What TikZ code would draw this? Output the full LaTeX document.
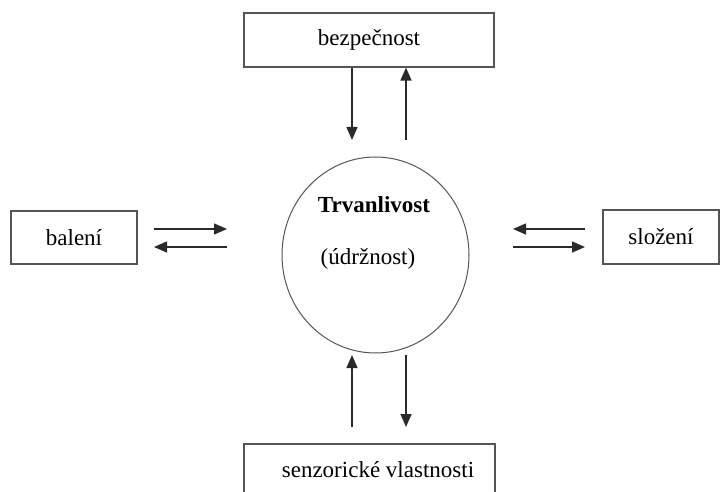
\documentclass[tikz,border=0pt]{standalone}
\usepackage{fontspec}
\setmainfont{Liberation Serif}
\usetikzlibrary{arrows.meta, shapes.geometric, positioning}
\definecolor{boxGrey}{HTML}{555555}
\definecolor{arrGrey}{HTML}{2A2A2A}
\tikzset{
  lbl/.style      = {font=\fontsize{23}{27}\selectfont},
  factorbox/.style = {draw=boxGrey, line width=1.1pt, inner sep=0pt, lbl},
  hub/.style      = {ellipse, draw=boxGrey, line width=1pt, inner sep=0pt,
                     minimum width=187pt, minimum height=196pt},
  flow/.style     = {-{Triangle[length=13pt, width=11pt]}, line width=1.4pt, arrGrey},
}
\begin{document}
\begin{tikzpicture}[x=1pt,y=-1pt]
  \useasboundingbox (0,0) rectangle (720,492);
  % factors round the centre
  \node[factorbox, minimum width=250pt, minimum height=54pt] (safety) at (369,40) {bezpečnost};
  \node[factorbox, minimum width=126pt, minimum height=53pt] (pack) at (74,237.5) {balení\hspace{12pt}};
  \node[factorbox, minimum width=116pt, minimum height=54pt] (comp) at (661,237) {složení\hspace{20pt}};
  \node[factorbox, minimum width=251pt, minimum height=52pt] (sense) at (369.5,470) {\hspace{17pt}senzorické vlastnosti};
  % centre
  \node[hub] (core) at (375.5,255) {};
  \node[lbl, font=\fontsize{23}{27}\selectfont\bfseries] (title) at (374,205) {Trvanlivost};
  \node[lbl] (subtitle) at (368,259) {(údržnost)};
  % free ends of the arrows
  \coordinate (sTop) at (352,140); \coordinate (sTop2) at (406,140);
  \coordinate (bUp) at (352,427);  \coordinate (bUpEnd) at (352,355);
  \coordinate (bDn) at (406,355);  \coordinate (bDnEnd) at (406,427);
  \coordinate (lA) at (154,229);   \coordinate (lB) at (227,229);
  \coordinate (lC) at (227,247);   \coordinate (lD) at (154,247);
  \coordinate (rA) at (585,229);   \coordinate (rB) at (513,229);
  \coordinate (rC) at (513,247);   \coordinate (rD) at (585,247);
  % arrows
  \draw[flow] (safety.south -| sTop) -- (sTop);
  \draw[flow] (sTop2) -- (safety.south -| sTop2);
  \draw[flow] (bUp) -- (bUpEnd);
  \draw[flow] (bDn) -- (bDnEnd);
  \draw[flow] (lA) -- (lB);
  \draw[flow] (lC) -- (lD);
  \draw[flow] (rA) -- (rB);
  \draw[flow] (rC) -- (rD);
\end{tikzpicture}
\end{document}
